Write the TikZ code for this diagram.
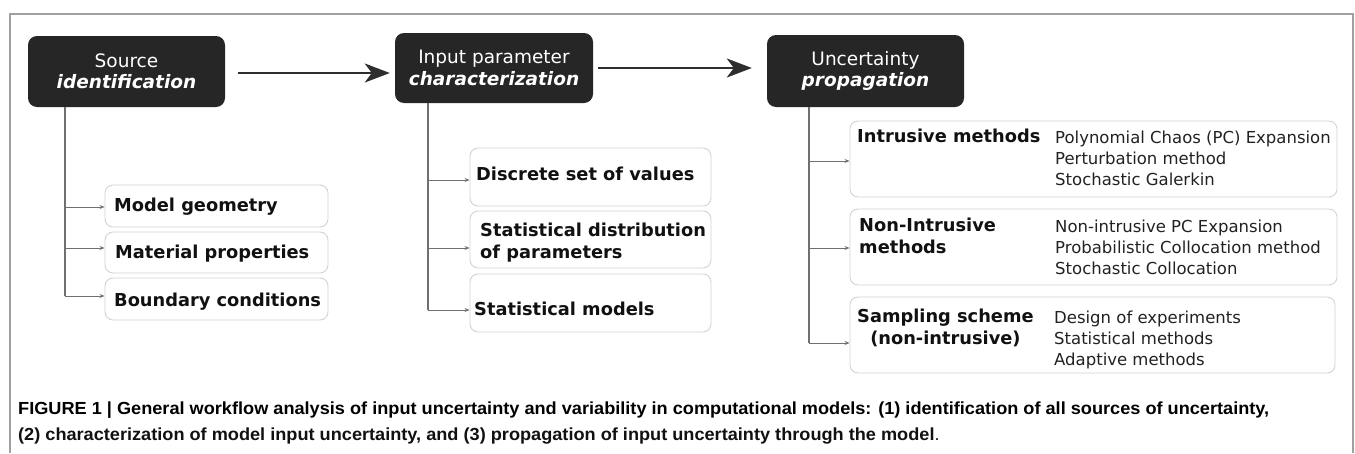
\documentclass[tikz,border=0pt]{standalone}
\usepackage{fontspec}
\usepackage{graphicx}
\setmainfont{DejaVu Sans}
\newfontfamily\capfont{Liberation Sans}
\usetikzlibrary{arrows.meta}
\definecolor{darkbox}{HTML}{262626}
\definecolor{framegray}{HTML}{A0A0A0}
\definecolor{trunkgray}{HTML}{707070}
\definecolor{boxedge}{HTML}{D2D2D2}
\definecolor{arrowdark}{HTML}{2E2E2E}
\definecolor{txtdark}{HTML}{111111}
\definecolor{itmdark}{HTML}{222222}
\newsavebox\capboxA
\newcommand{\stacklines}[2][l]{\begin{tabular}[t]{@{}#1@{}}#2\end{tabular}}
\begin{document}
\sbox\capboxA{\capfont\bfseries\fontsize{17.5}{20}\selectfont FIGURE 1 | General workflow analysis of input uncertainty and variability in computational models: (1) identification of all sources of uncertainty,}%
\pgfmathsetmacro\capratio{1251/\the\wd\capboxA}%
\begin{tikzpicture}[x=1pt,y=-1pt,
  headbox/.style={fill=darkbox, rounded corners=9pt, minimum width=197pt, minimum height=71pt, text=white, align=center, inner sep=0pt, font=\fontsize{18.5}{21.5}\selectfont},
  childbox/.style={draw=boxedge, line width=0.9pt, rounded corners=8pt, fill=white, inner sep=0pt},
  mainarrow/.style={draw=arrowdark, line width=2pt, -{Stealth[length=25pt,width=19pt,inset=7pt]}},
  trunk/.style={draw=trunkgray, line width=1.5pt},
  branch/.style={draw=trunkgray, line width=1pt, -{Stealth[length=5pt,width=4pt]}},
  lbl/.style={anchor=base west, inner sep=0pt, text=txtdark, font=\bfseries\fontsize{17.8}{22}\selectfont},
  itm/.style={anchor=base west, inner sep=0pt, text=itmdark, font=\fontsize{16.5}{21}\selectfont},
  captxt/.style={anchor=base west, inner sep=0pt, text=txtdark},
]
\useasboundingbox (0,0) rectangle (1355,453);
\fill[white] (0,0) rectangle (1355,453);
\draw[framegray, line width=1.5pt] (10,453) -- (10,14) -- (1353,14) -- (1353,453);

% head boxes
\node[headbox] (src) at (126.5,71.5) {Source\\{\bfseries\itshape identification}};
\node[headbox, minimum width=198pt, minimum height=70pt] (inp) at (494,68) {Input parameter\\{\bfseries\itshape characterization}};
\node[headbox, minimum height=72pt] (unc) at (865.5,71) {Uncertainty\\{\bfseries\itshape propagation}};

\draw[mainarrow, shorten <=13pt, shorten >=5pt] ([yshift=-1.5pt]src.east) -- ([yshift=-1.5pt]src.east -| inp.west);
\draw[mainarrow, shorten <=5pt, shorten >=15pt] (inp.east) -- (inp.east -| unc.west);

% left children
\node[childbox, minimum width=223pt, minimum height=42pt] (mg) at (216.5,206) {};
\node[childbox, minimum width=223pt, minimum height=41pt] (mp) at (216.5,252.5) {};
\node[childbox, minimum width=223pt, minimum height=42pt] (bc) at (216.5,299) {};
\node[lbl] (mgt) at (114,211.5) {Model geometry};
\node[lbl] (mpt) at (115,258.5) {Material properties};
\node[lbl] (bct) at (114,306.5) {Boundary conditions};
\coordinate (sT) at ([xshift=-61.5pt]src.south);
\coordinate (b1) at ([yshift=-1pt]mg.west);
\coordinate (b2) at ([yshift=4.5pt]mp.west);
\coordinate (b3) at ([yshift=3pt]bc.west);
\draw[trunk] (sT) -- (sT |- b3);
\draw[branch] (sT |- b1) -- (b1);
\draw[branch] (sT |- b2) -- (b2);
\draw[branch] (sT |- b3) -- (b3);

% middle children
\node[childbox, minimum width=241pt, minimum height=58pt] (dv) at (590.5,177) {};
\node[childbox, minimum width=241pt, minimum height=57pt] (sd) at (590.5,239.5) {};
\node[childbox, minimum width=241pt, minimum height=58pt] (sm) at (590.5,303) {};
\node[lbl] (dvt) at (476,180.5) {Discrete set of values};
\node[lbl] (sdt) at (480,236.5) {\stacklines{Statistical distribution\\of parameters}};
\node[lbl] (smt) at (474,315.5) {Statistical models};
\coordinate (iT) at ([xshift=-66pt]inp.south);
\coordinate (m1) at ([yshift=-3pt]dv.west);
\coordinate (m2) at ([yshift=-8.5pt]sd.west);
\coordinate (m3) at ([yshift=-7pt]sm.west);
\draw[trunk] (iT) -- (iT |- m3);
\draw[branch] (iT |- m1) -- (m1);
\draw[branch] (iT |- m2) -- (m2);
\draw[branch] (iT |- m3) -- (m3);

% right children
\node[childbox, minimum width=487pt, minimum height=76pt] (im) at (1093.5,159) {};
\node[childbox, minimum width=487pt, minimum height=76pt] (nim) at (1093.5,247) {};
\node[childbox, minimum width=485pt, minimum height=76pt] (ssc) at (1092.5,335) {};
\node[lbl] (imt) at (857,142.5) {Intrusive methods};
\node[lbl] (nimt) at (859,231.5) {\stacklines{Non-Intrusive\\methods}};
\node[lbl] (ssct) at (857,322.5) {\stacklines[c]{Sampling scheme\\(non-intrusive)}};
\node[itm] (imi) at (1055,143.3) {\stacklines{Polynomial Chaos (PC) Expansion\\Perturbation method\\Stochastic Galerkin}};
\node[itm] (nimi) at (1055,232.3) {\stacklines{Non-intrusive PC Expansion\\Probabilistic Collocation method\\Stochastic Collocation}};
\node[itm] (ssci) at (1054,323.3) {\stacklines{Design of experiments\\Statistical methods\\Adaptive methods}};
\coordinate (uT) at ([xshift=-56.5pt]unc.south);
\coordinate (r1) at ([yshift=-2pt]im.west);
\coordinate (r2) at ([yshift=-1pt]nim.west);
\coordinate (r3) at ([yshift=-8pt]ssc.west);
\draw[trunk] (uT) -- (uT |- r3);
\draw[branch] (uT |- r1) -- (r1);
\draw[branch] (uT |- r2) -- (r2);
\draw[branch] (uT |- r3) -- (r3);

% caption
\node[captxt] (cap1) at (18,414.5) {\scalebox{\capratio}[1]{\usebox\capboxA}};
\node[captxt] (cap2) at (18,440) {\scalebox{\capratio}[1]{\capfont\bfseries\fontsize{17.5}{20}\selectfont (2) characterization of model input uncertainty, and (3) propagation of input uncertainty through the model\mdseries.}};
\end{tikzpicture}
\end{document}
